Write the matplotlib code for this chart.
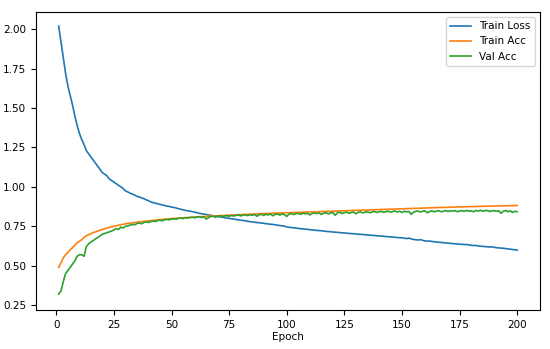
import numpy as np
import matplotlib
matplotlib.use("Agg")
import matplotlib.pyplot as plt

# =========================
# Data
# =========================

epochs = list(range(1, 201))

train_loss = [
    2.02, 1.92, 1.82, 1.72, 1.64, 1.58, 1.52, 1.45, 1.39, 1.34,
    1.30, 1.27, 1.23, 1.21, 1.19, 1.17, 1.15, 1.13, 1.11, 1.09,
    1.08, 1.07, 1.05, 1.04, 1.03, 1.02, 1.01, 1.00, 0.99, 0.975,
    0.968, 0.96, 0.955, 0.948, 0.94, 0.936, 0.93, 0.925, 0.918, 0.912,
    0.905, 0.90, 0.897, 0.893, 0.889, 0.886, 0.882, 0.878, 0.876, 0.872,
    0.87, 0.866, 0.862, 0.858, 0.855, 0.851, 0.849, 0.846, 0.843, 0.840,
    0.837, 0.833, 0.830, 0.828, 0.825, 0.822, 0.820, 0.817, 0.815, 0.812,
    0.810, 0.808, 0.805, 0.803, 0.800, 0.798, 0.796, 0.794, 0.791, 0.789,
    0.787, 0.785, 0.782, 0.780, 0.778, 0.776, 0.774, 0.773, 0.771, 0.769,
    0.767, 0.765, 0.763, 0.762, 0.760, 0.757, 0.755, 0.753, 0.751, 0.746,
    0.744, 0.742, 0.741, 0.739, 0.737, 0.735, 0.734, 0.732, 0.731, 0.729,
    0.727, 0.726, 0.724, 0.723, 0.722, 0.720, 0.718, 0.717, 0.716, 0.714,
    0.713, 0.712, 0.710, 0.709, 0.708, 0.706, 0.705, 0.704, 0.703, 0.702,
    0.700, 0.699, 0.698, 0.697, 0.695, 0.694, 0.693, 0.692, 0.690, 0.689,
    0.688, 0.687, 0.685, 0.684, 0.683, 0.682, 0.680, 0.679, 0.678, 0.677,
    0.675, 0.672, 0.676, 0.670, 0.667, 0.665, 0.663, 0.666, 0.661, 0.658,
    0.656, 0.657, 0.654, 0.652, 0.651, 0.649, 0.648, 0.646, 0.645, 0.643,
    0.642, 0.641, 0.639, 0.638, 0.637, 0.636, 0.634, 0.635, 0.632, 0.630,
    0.628, 0.629, 0.626, 0.624, 0.623, 0.622, 0.620, 0.619, 0.620, 0.617,
    0.615, 0.613, 0.612, 0.611, 0.609, 0.607, 0.605, 0.603, 0.601, 0.599,
]

train_acc = [
    0.49, 0.52, 0.55, 0.57, 0.585, 0.60, 0.615, 0.63, 0.645, 0.655,
    0.665, 0.68, 0.69, 0.697, 0.703, 0.71, 0.715, 0.72, 0.726, 0.73,
    0.735, 0.739, 0.743, 0.747, 0.75, 0.754, 0.757, 0.76, 0.763, 0.766,
    0.768, 0.770, 0.772, 0.774, 0.776, 0.778, 0.780, 0.781, 0.783, 0.785,
    0.786, 0.788, 0.789, 0.791, 0.792, 0.794, 0.795, 0.796, 0.798, 0.799,
    0.800, 0.801, 0.802, 0.803, 0.804, 0.805, 0.806, 0.807, 0.808, 0.809,
    0.810, 0.811, 0.812, 0.812, 0.813, 0.814, 0.815, 0.816, 0.816, 0.817,
    0.818, 0.819, 0.819, 0.820, 0.821, 0.822, 0.822, 0.823, 0.824, 0.824,
    0.825, 0.826, 0.826, 0.827, 0.828, 0.828, 0.829, 0.829, 0.830, 0.831,
    0.831, 0.832, 0.832, 0.833, 0.834, 0.834, 0.835, 0.835, 0.836, 0.836,
    0.837, 0.837, 0.838, 0.838, 0.839, 0.839, 0.840, 0.840, 0.841, 0.841,
    0.842, 0.842, 0.843, 0.843, 0.844, 0.844, 0.845, 0.845, 0.846, 0.846,
    0.847, 0.847, 0.848, 0.848, 0.849, 0.849, 0.850, 0.850, 0.851, 0.851,
    0.852, 0.852, 0.853, 0.853, 0.854, 0.854, 0.855, 0.855, 0.856, 0.856,
    0.857, 0.857, 0.858, 0.858, 0.859, 0.859, 0.860, 0.860, 0.861, 0.861,
    0.862, 0.862, 0.863, 0.863, 0.864, 0.864, 0.865, 0.865, 0.866, 0.866,
    0.867, 0.867, 0.868, 0.868, 0.869, 0.869, 0.870, 0.870, 0.870, 0.871,
    0.871, 0.872, 0.872, 0.873, 0.873, 0.873, 0.874, 0.874, 0.875, 0.875,
    0.875, 0.876, 0.876, 0.877, 0.877, 0.877, 0.878, 0.878, 0.878, 0.879,
    0.879, 0.879, 0.880, 0.880, 0.880, 0.881, 0.881, 0.881, 0.882, 0.882,
]

val_acc = [
    0.32, 0.34, 0.40, 0.45, 0.47, 0.49, 0.51, 0.53, 0.56, 0.57,
    0.57, 0.56, 0.62, 0.64, 0.65, 0.66, 0.67, 0.68, 0.69, 0.70,
    0.705, 0.71, 0.715, 0.72, 0.728, 0.735, 0.73, 0.745, 0.74, 0.75,
    0.752, 0.758, 0.762, 0.760, 0.768, 0.771, 0.766, 0.775, 0.778, 0.774,
    0.781, 0.784, 0.780, 0.787, 0.789, 0.785, 0.792, 0.794, 0.791, 0.796,
    0.798, 0.795, 0.801, 0.803, 0.799, 0.805, 0.802, 0.806, 0.808, 0.804,
    0.809, 0.811, 0.806, 0.810, 0.796, 0.805, 0.812, 0.814, 0.808, 0.815,
    0.817, 0.811, 0.816, 0.818, 0.813, 0.819, 0.815, 0.820, 0.822, 0.816,
    0.821, 0.823, 0.818, 0.824, 0.820, 0.825, 0.814, 0.823, 0.826, 0.819,
    0.827, 0.822, 0.828, 0.817, 0.826, 0.829, 0.821, 0.830, 0.824, 0.813,
    0.828, 0.831, 0.825, 0.830, 0.832, 0.826, 0.833, 0.829, 0.834, 0.822,
    0.832, 0.835, 0.830, 0.836, 0.825, 0.834, 0.837, 0.829, 0.835, 0.838,
    0.820, 0.836, 0.839, 0.831, 0.837, 0.840, 0.833, 0.838, 0.841, 0.829,
    0.839, 0.842, 0.835, 0.840, 0.843, 0.836, 0.841, 0.844, 0.838, 0.842,
    0.845, 0.839, 0.843, 0.846, 0.840, 0.844, 0.847, 0.841, 0.845, 0.838,
    0.846, 0.842, 0.844, 0.826, 0.840, 0.845, 0.847, 0.841, 0.846, 0.848,
    0.836, 0.844, 0.848, 0.842, 0.847, 0.849, 0.843, 0.845, 0.850, 0.844,
    0.848, 0.846, 0.850, 0.843, 0.847, 0.849, 0.845, 0.851, 0.846, 0.848,
    0.843, 0.850, 0.847, 0.852, 0.846, 0.849, 0.851, 0.844, 0.848, 0.850,
    0.845, 0.849, 0.833, 0.846, 0.850, 0.843, 0.848, 0.838, 0.845, 0.843,
]

# =========================
# Plot
# =========================

FS = 7.5
plt.rcParams["font.size"] = FS

fig = plt.figure(figsize=(5.5, 3.49), dpi=100)
ax = fig.add_axes([0.065, 0.112, 0.917, 0.854])

ax.plot(epochs, train_loss, label="Train Loss", linewidth=1.2)
ax.plot(epochs, train_acc, label="Train Acc", linewidth=1.2)
ax.plot(epochs, val_acc, label="Val Acc", linewidth=1.2)

ax.set_xlabel("Epoch", fontsize=FS, labelpad=2)
ax.set_xticks([0, 25, 50, 75, 100, 125, 150, 175, 200])
ax.set_yticks([0.25, 0.50, 0.75, 1.00, 1.25, 1.50, 1.75, 2.00])
ax.yaxis.set_major_formatter(matplotlib.ticker.FormatStrFormatter("%.2f"))
ax.tick_params(labelsize=FS)
ax.set_ylim(0.22, 2.11)
ax.legend(loc="upper right", fontsize=FS)

fig.savefig("out.png", dpi=100)
